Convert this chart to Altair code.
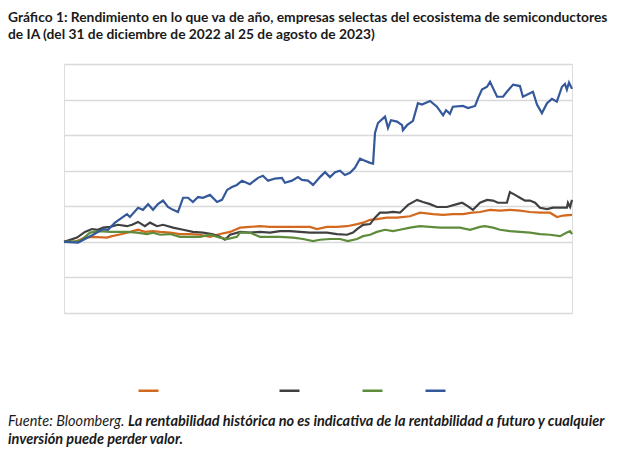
import altair as alt
import pandas as pd

# Series names (legend labels are white/invisible in the reference)
series_names = ["Semiconductores SOX", "Broadcom", "ASML", "Nvidia"]
series_colors = ["#D2691E", "#404040", "#5E8C3A", "#34589A"]

# Days since 30 Dec 2022 and YTD return (%)
orange_days = [0, 5.2, 9.8, 13.6, 20.1, 22.5, 27.2, 30.9, 34.7, 37.9, 41.7, 45, 49.7, 54.3, 59, 63.7, 68.4, 73.1, 77.8, 82.5, 87.1, 91.8, 96.5, 102.6, 109.2, 115.2, 118.5, 123.2, 127.9, 132.6, 137.3, 140.1, 143.4, 146.6, 151.3, 156, 162.1, 166.8, 172.9, 177.6, 182.2, 186.9, 191.1, 194.9, 199.6, 204.3, 209, 213.6, 218.3, 223, 227.7, 231, 233.8, 238]
orange_vals = [0, 0, 6, 7, 6, 8, 11, 14, 17, 14, 15, 14, 13, 11, 11, 10, 7, 11, 14, 20, 21, 22, 21, 21, 21, 21, 18, 21, 21, 22, 25, 27, 31, 32, 34, 34, 36, 41, 39, 38, 39, 39, 41, 42, 45, 44, 45, 44, 42, 41, 41, 35, 37, 38]

black_days = [0, 6.1, 9.8, 13.1, 15.9, 18.3, 21.6, 25.3, 29.5, 31.9, 34.7, 37.9, 40.3, 43.6, 46.4, 51.1, 55.8, 60.4, 65.1, 69.3, 73.1, 75.4, 77.8, 82.5, 87.1, 91.8, 96.5, 101.2, 105.9, 110.6, 115.2, 123.2, 127.9, 132.6, 135.4, 137.3, 140.1, 143.4, 145.7, 148, 151.3, 154.1, 157.4, 159.8, 161.2, 165.4, 168.2, 171.5, 174.7, 179.4, 184.1, 186.5, 188.8, 191.6, 194.9, 198.2, 201, 203.3, 207.5, 208.9, 211.3, 213.6, 216, 218.3, 220.7, 223, 226.3, 229.1, 232.4, 235.6, 236.1, 237.1, 238]
black_vals = [0, 6, 14, 18, 17, 20, 21, 24, 22, 24, 28, 22, 27, 22, 24, 20, 17, 14, 13, 11, 7, 3, 10, 14, 13, 14, 13, 15, 15, 14, 13, 13, 11, 10, 13, 18, 24, 25, 34, 41, 41, 42, 41, 48, 52, 59, 56, 53, 49, 49, 53, 55, 51, 45, 55, 59, 58, 55, 55, 70, 66, 62, 58, 58, 55, 48, 46, 48, 48, 48, 55, 49, 59]

green_days = [0, 7.5, 12.2, 16.9, 21.6, 29.5, 34.2, 38.9, 41.7, 45, 49.7, 54.3, 59, 63.7, 68.4, 73.1, 76.4, 81, 82.5, 87.1, 91.8, 96.5, 101.2, 107.3, 112, 116.7, 119.9, 124.6, 129.3, 133, 137.3, 140.1, 143.4, 146.6, 150.4, 154.1, 157.4, 162.1, 166.8, 171.5, 176.2, 180.8, 185.5, 190.2, 194.9, 197.2, 201, 204.3, 209, 213.6, 218.3, 223, 227.7, 232.4, 235.6, 237.1, 238]
green_vals = [0, 1, 13, 15, 14, 14, 13, 11, 13, 10, 11, 7, 7, 7, 10, 6, 4, 7, 13, 13, 7, 7, 7, 6, 4, 1, 3, 4, 4, 1, 4, 8, 10, 14, 17, 15, 17, 20, 22, 21, 20, 20, 20, 17, 21, 22, 20, 17, 15, 14, 13, 11, 10, 8, 13, 15, 11]

blue_days = [0, 6.6, 13.6, 18.3, 20.6, 23.9, 27.2, 29.5, 30.9, 34.7, 37, 39.4, 41.7, 44, 46.4, 48.7, 51.1, 53.4, 55.8, 58.1, 60.4, 62.8, 65.1, 68.4, 71.7, 74, 76.4, 78.7, 81, 83.4, 87.1, 90.9, 93.2, 95.6, 98.9, 102.1, 103.5, 106.8, 109.6, 111.5, 114.3, 116.7, 119.9, 122.3, 124.6, 127, 129.3, 131.6, 134, 136.3, 138.7, 140.1, 143.4, 144.8, 145.7, 147.1, 150.4, 151.8, 153.2, 156, 158.4, 158.8, 160.7, 163.5, 165.8, 167.7, 171.5, 174.7, 177.6, 179, 180.8, 182.2, 186.9, 189.3, 192.6, 194, 195.8, 198.2, 199.6, 202.9, 205.7, 207.5, 210.4, 213.6, 215, 219.7, 221.6, 223.9, 226.3, 228.6, 230.9, 233.3, 234.7, 235.6, 236.6, 238]
blue_vals = [0, -1, 10, 18, 17, 27, 34, 39, 35, 48, 45, 53, 45, 53, 58, 49, 45, 42, 62, 62, 56, 63, 62, 66, 56, 59, 73, 77, 80, 86, 81, 90, 93, 86, 89, 90, 83, 86, 91, 87, 86, 80, 91, 98, 91, 98, 100, 94, 97, 104, 117, 115, 111, 110, 153, 167, 176, 160, 171, 169, 164, 157, 164, 170, 195, 193, 198, 190, 178, 185, 180, 190, 191, 188, 191, 202, 214, 218, 225, 204, 204, 211, 221, 219, 204, 211, 193, 181, 195, 201, 197, 218, 222, 214, 224, 215]

grid_values = [-100, -50, 0, 50, 100, 150, 200, 250]

title_lines = [
    "Gráfico 1: Rendimiento en lo que va de año, empresas selectas del ecosistema de semiconductores",
    "de IA (del 31 de diciembre de 2022 al 25 de agosto de 2023)",
]
source_text = "Fuente: Bloomberg."
disclaimer_1 = "La rentabilidad histórica no es indicativa de la rentabilidad a futuro y cualquier"
disclaimer_2 = "inversión puede perder valor."

base = pd.Timestamp("2022-12-30")
frames = []
for name, days, vals in [
    (series_names[0], orange_days, orange_vals),
    (series_names[1], black_days, black_vals),
    (series_names[2], green_days, green_vals),
    (series_names[3], blue_days, blue_vals),
]:
    frames.append(pd.DataFrame({
        "fecha": base + pd.to_timedelta(days, unit="D"),
        "valor": vals,
        "serie": name,
        "orden": list(range(len(days))),
    }))
df = pd.concat(frames, ignore_index=True)

FONT = "Lato"
FOOT_SIZE = 14.5

lines = alt.Chart(df).mark_line(strokeWidth=2.2, interpolate="linear").encode(
    x=alt.X("fecha:T", axis=None,
            scale=alt.Scale(domain=[base.isoformat(), (base + pd.Timedelta(days=238)).isoformat()])),
    y=alt.Y("valor:Q", title=None,
            scale=alt.Scale(domain=[-100, 250], nice=False, zero=False),
            axis=alt.Axis(values=grid_values, grid=True, labels=False, ticks=False,
                          domain=False, gridColor="#D9D9D9", gridWidth=1.5)),
    color=alt.Color("serie:N",
                    scale=alt.Scale(domain=series_names, range=series_colors),
                    sort=series_names,
                    legend=alt.Legend(orient="none", legendX=73, legendY=315,
                                      direction="horizontal", title=None,
                                      symbolType="stroke", symbolSize=400,
                                      symbolStrokeWidth=2.5, labelColor="white",
                                      labelFont=FONT, labelFontSize=11,
                                      labelOffset=4, columnPadding=2)),
    order="orden:Q",
)

src = alt.Chart(pd.DataFrame({"t": [source_text]})).mark_text(
    align="left", baseline="middle", font=FONT, fontSize=FOOT_SIZE, fontStyle="italic",
    color="#1A1A1A").encode(text="t:N", x=alt.value(-56), y=alt.value(358))
disc1 = alt.Chart(pd.DataFrame({"t": [disclaimer_1]})).mark_text(
    align="left", baseline="middle", font=FONT, fontSize=FOOT_SIZE, fontStyle="italic",
    fontWeight="bold", color="#1A1A1A").encode(text="t:N", x=alt.value(64), y=alt.value(358))
disc2 = alt.Chart(pd.DataFrame({"t": [disclaimer_2]})).mark_text(
    align="left", baseline="middle", font=FONT, fontSize=FOOT_SIZE, fontStyle="italic",
    fontWeight="bold", color="#1A1A1A").encode(text="t:N", x=alt.value(-56), y=alt.value(376))

chart = alt.layer(lines, src, disc1, disc2).properties(
    width=508, height=249,
    title=alt.TitleParams(text=title_lines, anchor="start", frame="bounds",
                          font=FONT, fontSize=13.8, fontWeight="bold", color="#1A1A1A",
                          lineHeight=17.5, offset=22),
    autosize=alt.AutoSizeParams(type="none"),
    padding={"left": 56, "top": 56, "right": 40, "bottom": 138},
).configure_view(stroke=None).configure(background="white")

chart.save("out.html", embed_options={"renderer": "svg", "actions": False})
